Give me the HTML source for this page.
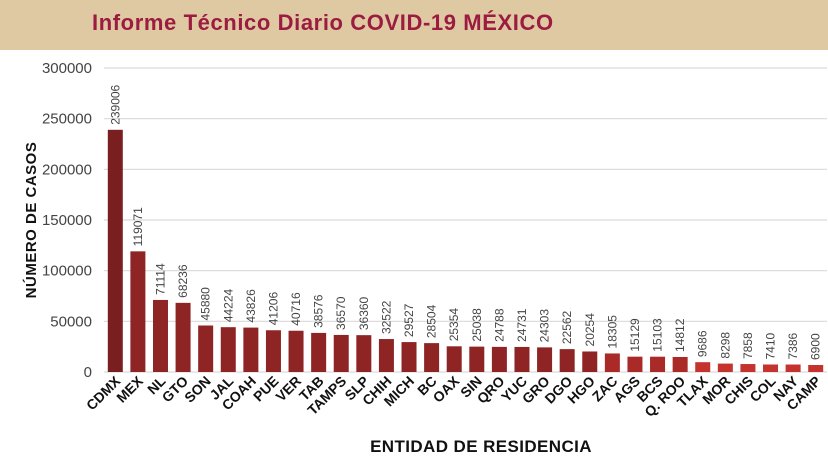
<!DOCTYPE html>
<html><head><meta charset="utf-8"><style>
body{margin:0;background:#fff;width:828px;height:471px;overflow:hidden;font-family:"Liberation Sans",sans-serif}
</style></head><body>
<svg width="828" height="471">
<rect x="0" y="0" width="828" height="50" fill="#dfc9a3"/>
<text x="92" y="30" font-size="22" font-weight="bold" letter-spacing="0.6" fill="#9b1c40">Informe Técnico Diario COVID-19 MÉXICO</text>
<g id="grid"></g><g id="bars"></g>
<text transform="translate(36,220) rotate(-90)" text-anchor="middle" font-size="15" font-weight="bold" letter-spacing="0.5" fill="#111">NÚMERO DE CASOS</text>
<text x="481" y="452" text-anchor="middle" font-size="17" font-weight="bold" letter-spacing="0.4" fill="#111">ENTIDAD DE RESIDENCIA</text>
</svg>
<script>
const categories=["CDMX","MEX","NL","GTO","SON","JAL","COAH","PUE","VER","TAB","TAMPS","SLP","CHIH","MICH","BC","OAX","SIN","QRO","YUC","GRO","DGO","HGO","ZAC","AGS","BCS","Q. ROO","TLAX","MOR","CHIS","COL","NAY","CAMP"];
const values=[239006,119071,71114,68236,45880,44224,43826,41206,40716,38576,36570,36360,32522,29527,28504,25354,25038,24788,24731,24303,22562,20254,18305,15129,15103,14812,9686,8298,7858,7410,7386,6900];
const yTicks=[0,50000,100000,150000,200000,250000,300000];
const NS="http://www.w3.org/2000/svg";
const x0=104,x1=827,y0=372,yTop=68,yMax=300000;
const band=(x1-x0)/categories.length;
const y=v=>y0-(v/yMax)*(y0-yTop);
const xc=i=>x0+band*(i+0.5);
function mk(t,a,p){const e=document.createElementNS(NS,t);for(const k in a)e.setAttribute(k,a[k]);p.appendChild(e);return e;}
const g=document.getElementById('grid'),b=document.getElementById('bars');
yTicks.forEach(t=>{
 const l=mk('line',{x1:x0,x2:x1,y1:y(t),y2:y(t),stroke:'#d9d9d9','stroke-width':1.2},g);
 
 
 const tx=mk('text',{x:92,y:y(t)+5,'text-anchor':'end','font-size':15,fill:'#444'},g);
 tx.textContent=t;
 
 
});
function col(i){if(i==0)return'#7a1f1f';if(i<=21)return'#8e2524';if(i<=25)return'#a92a27';return'#c4332e';}
categories.forEach((c,i)=>{
 const v=values[i],bw=15,cx=xc(i);
 const r=mk('rect',{x:cx-bw/2,y:y(v),width:bw,height:y0-y(v),fill:col(i)},b);
 
 
 const vl=mk('text',{transform:`translate(${cx+4},${y(v)-5}) rotate(-90)`,'font-size':12,fill:'#444'},b);
 vl.textContent=v;
 
 
 const xl=mk('text',{transform:`translate(${cx+6},${y0+10}) rotate(-45)`,'text-anchor':'end','font-size':14,'font-weight':'bold',fill:'#111'},b);
 xl.textContent=c;
 
 
});
</script>
</body></html>
